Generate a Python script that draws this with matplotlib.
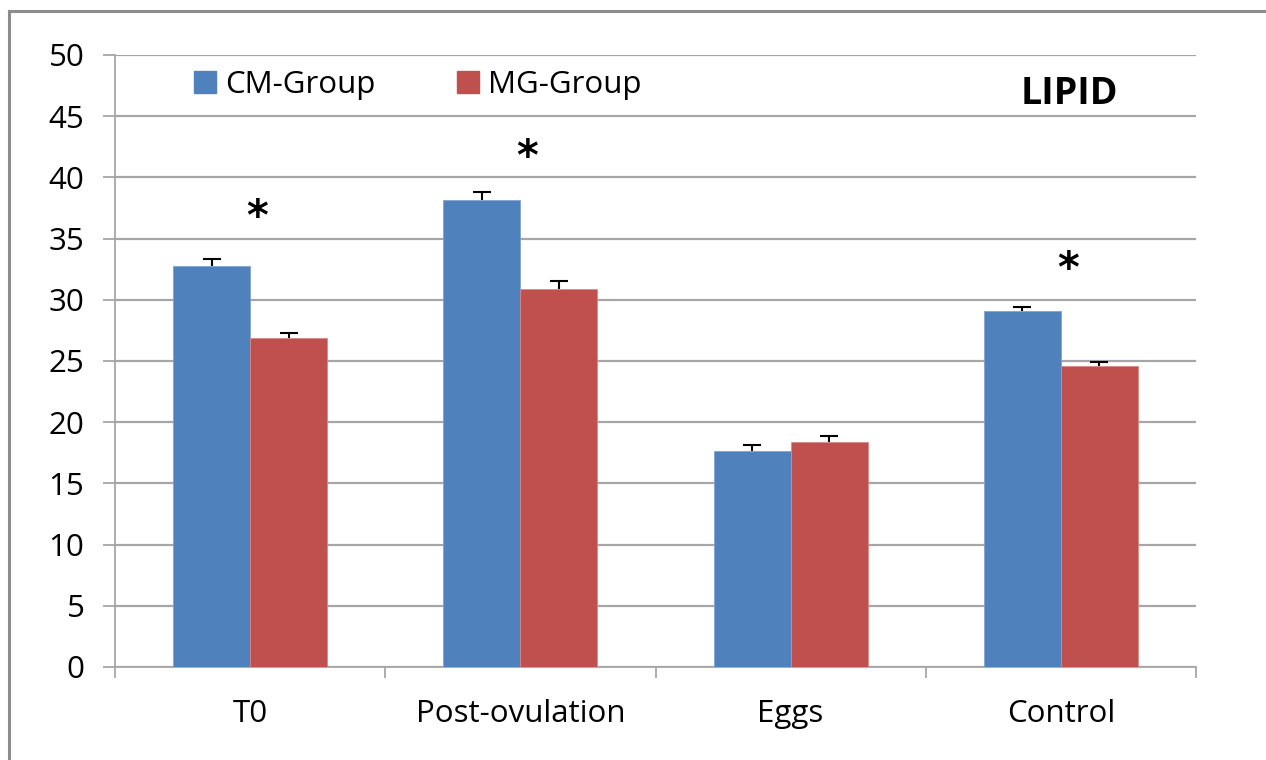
import matplotlib
matplotlib.use("Agg")
import matplotlib.pyplot as plt
from matplotlib.lines import Line2D
import numpy as np

categories = ["T0", "Post-ovulation", "Eggs", "Control"]
cm_values = [32.8, 38.15, 17.65, 29.1]
cm_err = [0.5, 0.65, 0.5, 0.35]
mg_values = [26.9, 30.9, 18.4, 24.6]
mg_err = [0.4, 0.6, 0.45, 0.35]
series_names = ["CM-Group", "MG-Group"]
star_cats = [0, 1, 3]
star_levels = [36.7, 41.6, 32.4]
yticks = [0, 5, 10, 15, 20, 25, 30, 35, 40, 45, 50]

plt.rcParams['font.family'] = ['Open Sans', 'DejaVu Sans']

fig = plt.figure(figsize=(12.66, 7.6), dpi=100)
ax = fig.add_axes([115/1266, 1-667/760, (1196-115)/1266, (667-55)/760])

x = np.arange(len(categories))
w = 77/270
blue = "#4F81BD"
red = "#C0504D"
grid_c = "#A6A6A6"

ax.bar(x - w/2, cm_values, w, color=blue, edgecolor="#7FA3D1", linewidth=0.6, zorder=3, label=series_names[0])
ax.bar(x + w/2, mg_values, w, color=red, edgecolor="#D98A88", linewidth=0.6, zorder=3, label=series_names[1])
for xs, vals, errs in [(x - w/2, cm_values, cm_err), (x + w/2, mg_values, mg_err)]:
    _, caps, _ = ax.errorbar(xs, vals, yerr=[np.zeros(len(errs)), errs], fmt='none', ecolor='black',
                             elinewidth=1.5, capsize=6.5, capthick=1.5, zorder=4)
    caps[0].set_visible(False)

for c, lvl in zip(star_cats, star_levels):
    ax.text(c + 0.025, lvl, "*", ha='center', va='center', fontsize=30, fontweight='bold',
            color='black', family=['DejaVu Sans'], zorder=5)

ax.set_xlim(-0.5, len(categories) - 0.5)
ax.set_ylim(0, 50)
ax.set_yticks(yticks)
ax.set_yticklabels([str(v) for v in yticks])
ax.yaxis.grid(True, color=grid_c, linewidth=1.6, zorder=0)
ax.set_axisbelow(True)
ax.set_xticks(x)
ax.set_xticklabels(categories)
ax.set_xticks(np.arange(-0.5, len(categories)), minor=True)
ax.tick_params(axis='x', which='major', length=0, pad=23, labelsize=22.5, colors='black')
ax.tick_params(axis='x', which='minor', length=8, width=1.3, color=grid_c, direction='out')
ax.tick_params(axis='y', length=9, width=1.3, color=grid_c, direction='out', pad=13, labelsize=22.5,
               labelcolor='black')
for s in ['top', 'right']:
    ax.spines[s].set_visible(False)
for s in ['left', 'bottom']:
    ax.spines[s].set_color(grid_c)
    ax.spines[s].set_linewidth(1.3)

handles = [plt.Rectangle((0, 0), 1, 1, color=blue), plt.Rectangle((0, 0), 1, 1, color=red)]
leg = ax.legend(handles, series_names, loc='upper left', bbox_to_anchor=(0.053, 1.012), ncol=2,
                frameon=False, fontsize=22.5, handlelength=0.7, handleheight=0.7,
                handletextpad=0.3, columnspacing=2.6, borderaxespad=0.3)

ax.text(0.883, 0.937, "LIPID", transform=ax.transAxes, ha='center', va='center', fontsize=27,
        fontweight='bold', color='black')

# outer frame (left and top edges)
fig.add_artist(Line2D([8.5/1266, 8.5/1266], [0, 1-11/760], transform=fig.transFigure,
                      color='#8C8C8C', linewidth=2.2))
fig.add_artist(Line2D([8.5/1266, 1], [1-11/760, 1-11/760], transform=fig.transFigure,
                      color='#8C8C8C', linewidth=2.2))

fig.savefig("out.png", dpi=100)
